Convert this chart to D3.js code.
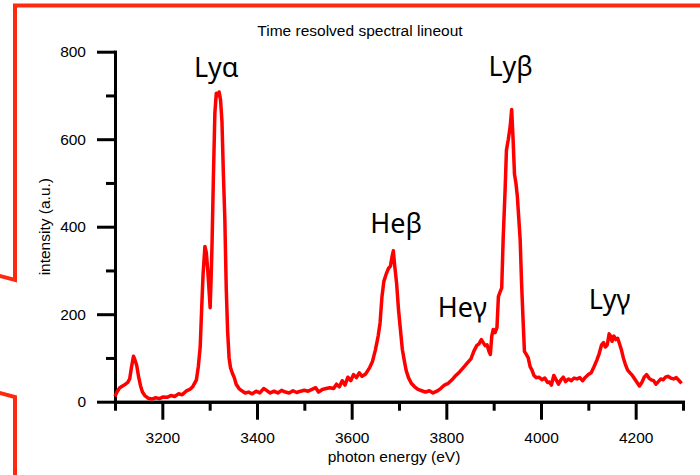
<!DOCTYPE html>
<html>
<head>
<meta charset="utf-8">
<script src="https://cdn.jsdelivr.net/npm/d3@7"></script>
<style>
  body { margin: 0; background: #fff; }
  svg { display: block; }
  .axis text { font-family: "Liberation Sans", Arial, sans-serif; font-size: 15.5px; fill: #000; }
  .axis path, .axis line { stroke: #000; stroke-width: 3; }
  .peak-label { font-family: "Noto Sans", "Open Sans", sans-serif; font-size: 27px; fill: #000; }
</style>
</head>
<body>
<div id="chart"></div>
<script>
// --- Data ---
const energy = [
  3100, 3104, 3110, 3116, 3122, 3127, 3131, 3135, 3139, 3142, 3146, 3150, 3154, 3158, 3163, 3170,
  3178, 3186, 3194, 3202, 3210, 3218, 3226, 3234, 3242, 3250, 3258, 3264, 3268, 3272, 3276, 3280,
  3283, 3286, 3290, 3293, 3296, 3299, 3301, 3303, 3305, 3308, 3311, 3314, 3317, 3320, 3323, 3326,
  3329, 3332, 3335, 3338, 3341, 3344, 3348, 3352, 3356, 3362, 3368, 3375, 3382, 3390, 3398, 3406,
  3414, 3420, 3428, 3436, 3444, 3452, 3460, 3468, 3476, 3484, 3492, 3500, 3508, 3516, 3524, 3530,
  3538, 3546, 3554, 3562, 3568, 3574, 3580, 3586, 3592, 3598, 3604, 3610, 3616, 3622, 3630, 3638,
  3644, 3650, 3656, 3660, 3664, 3668, 3673, 3678, 3682, 3685, 3688, 3691, 3695, 3699, 3703, 3707,
  3711, 3715, 3720, 3726, 3733, 3740, 3748, 3756, 3764, 3772, 3780, 3788, 3796, 3804, 3812, 3820,
  3828, 3836, 3844, 3852, 3858, 3864, 3869, 3874, 3878, 3882, 3886, 3890, 3893, 3896, 3899, 3903,
  3907, 3910, 3914, 3917, 3920, 3924, 3927, 3931, 3935, 3938, 3941, 3944, 3947, 3950, 3953, 3956,
  3959, 3962, 3965, 3969, 3973, 3977, 3981, 3985, 3990, 3996, 4002, 4008, 4014, 4018, 4022, 4027,
  4032, 4037, 4042, 4047, 4052, 4058, 4064, 4070, 4076, 4082, 4088, 4094, 4100, 4106, 4112, 4118,
  4123, 4128, 4132, 4136, 4140, 4144, 4147, 4150, 4154, 4158, 4162, 4166, 4170, 4174, 4178, 4183,
  4188, 4193, 4198, 4203, 4208, 4213, 4218, 4223, 4228, 4233, 4238, 4243, 4248, 4253, 4258, 4263,
  4268, 4274, 4280, 4286, 4292, 4297
];
const intensity = [
  12, 22, 32, 36, 40, 44, 52, 80, 104, 96, 82, 56, 36, 22, 14, 8,
  6, 9, 7, 11, 10, 14, 12, 18, 16, 24, 28, 34, 42, 50, 80, 125,
  210, 290, 355, 340, 300, 250, 215, 280, 360, 520, 660, 705, 700, 708, 690, 640,
  520, 420, 260, 160, 100, 78, 65, 55, 40, 30, 25, 20, 22, 18, 24, 20,
  30, 26, 20, 24, 20, 26, 22, 20, 25, 21, 24, 26, 24, 28, 32, 22,
  28, 30, 32, 30, 40, 34, 48, 38, 56, 48, 62, 55, 66, 58, 64, 78,
  92, 118, 150, 180, 240, 275, 292, 305, 310, 330, 345, 310, 270, 210, 165, 120,
  95, 72, 55, 42, 34, 28, 25, 22, 25, 20, 24, 30, 38, 42, 50, 60,
  68, 78, 88, 98, 115, 128, 132, 142, 135, 128, 130, 115, 108, 150, 165, 158,
  170, 240, 252, 260, 370, 480, 575, 600, 630, 668, 600, 520, 500, 470, 420, 370,
  270, 190, 115, 108, 100, 80, 72, 60, 55, 56, 50, 54, 44, 45, 38, 60,
  50, 40, 50, 56, 46, 52, 48, 54, 52, 55, 48, 56, 62, 66, 80, 95,
  110, 130, 135, 125, 130, 155, 150, 138, 150, 142, 145, 132, 118, 100, 86, 72,
  66, 60, 52, 44, 36, 44, 56, 62, 54, 50, 48, 40, 46, 52, 50, 56,
  58, 54, 52, 55, 48, 42
];

const xMajorTicks = [3200, 3400, 3600, 3800, 4000, 4200];
const xMinorTicks = [3100, 3300, 3500, 3700, 3900, 4100, 4300];
const yMajorTicks = [0, 200, 400, 600, 800];
const yMinorTicks = [100, 300, 500, 700];

const peakNames = ["Ly\u03b1", "He\u03b2", "He\u03b3", "Ly\u03b2", "Ly\u03b3"];
const peakEnergy = [3314, 3694, 3834, 3936, 4145];
const peakHeight = [742, 385, 193, 744, 212];

// --- Chart setup ---
const width = 700, height = 475;
const x = d3.scaleLinear().domain([3100, 4300]).range([115, 683]);
const y = d3.scaleLinear().domain([0, 800]).range([401.7, 51.7]);

const svg = d3.select("#chart").append("svg")
  .attr("width", width)
  .attr("height", height);

// red callout frame, partly outside the picture
svg.append("path")
  .attr("d", "M-4,275 L15,280 L15,5.5 L705,5.5 M-4,392 L15,397 L15,480")
  .attr("fill", "none")
  .attr("stroke", "#fe2a10")
  .attr("stroke-width", 4);

// title
svg.append("text")
  .attr("x", 360).attr("y", 36)
  .attr("text-anchor", "middle")
  .style("font-family", "Liberation Sans, Arial, sans-serif")
  .style("font-size", "15.5px")
  .text("Time resolved spectral lineout");

// --- Axes ---
svg.append("g").attr("class", "axis")
  .attr("transform", `translate(0,${y(0)})`)
  .call(d3.axisBottom(x).tickValues(xMinorTicks).tickSize(9).tickSizeOuter(0).tickFormat(""));
svg.append("g").attr("class", "axis")
  .attr("transform", `translate(0,${y(0)})`)
  .call(d3.axisBottom(x).tickValues(xMajorTicks).tickSize(18).tickSizeOuter(0).tickPadding(12).tickFormat(d3.format("d")));

svg.append("g").attr("class", "axis")
  .attr("transform", `translate(${x(3100)},0)`)
  .call(d3.axisLeft(y).tickValues(yMinorTicks).tickSize(9).tickSizeOuter(0).tickFormat(""));
svg.append("g").attr("class", "axis")
  .attr("transform", `translate(${x(3100)},0)`)
  .call(d3.axisLeft(y).tickValues(yMajorTicks).tickSize(18).tickSizeOuter(0).tickPadding(11).tickFormat(d3.format("d")));

svg.selectAll(".axis path.domain").attr("stroke-linecap", "square");

// axis titles
svg.append("text")
  .attr("x", 394).attr("y", 462)
  .attr("text-anchor", "middle")
  .style("font-family", "Liberation Sans, Arial, sans-serif")
  .style("font-size", "15.5px")
  .text("photon energy (eV)");

svg.append("text")
  .attr("transform", `translate(49.5,${(y(0) + y(800)) / 2}) rotate(-90)`)
  .attr("text-anchor", "middle")
  .style("font-family", "Liberation Sans, Arial, sans-serif")
  .style("font-size", "15.5px")
  .text("intensity (a.u.)");

// --- Spectrum line ---
const points = energy.map((e, i) => [e, intensity[i]]);
svg.append("path")
  .datum(points)
  .attr("fill", "none")
  .attr("stroke", "#ff0000")
  .attr("stroke-width", 3.5)
  .attr("stroke-linejoin", "round")
  .attr("d", d3.line().x(d => x(d[0])).y(d => y(d[1])));

// --- Peak labels ---
svg.selectAll(".peak-label")
  .data(peakNames)
  .enter().append("text")
  .attr("class", "peak-label")
  .attr("x", (d, i) => x(peakEnergy[i]))
  .attr("y", (d, i) => y(peakHeight[i]))
  .attr("text-anchor", "middle")
  .text(d => d);
</script>
</body>
</html>
